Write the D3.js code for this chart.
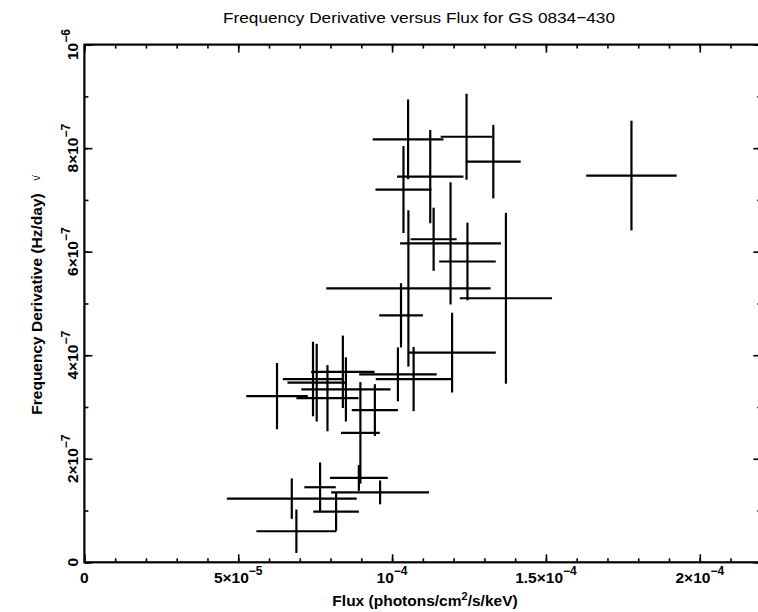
<!DOCTYPE html>
<html><head><meta charset="utf-8">
<script src="https://cdn.jsdelivr.net/npm/d3@7"></script>
<style>
body{margin:0;background:#fff}
svg{display:block}
text{font-family:"Liberation Sans",Arial,Helvetica,sans-serif;fill:#000}
</style></head>
<body><svg id="c" width="758" height="612"></svg>
<script>
// ---- data ----
const flux    = [6.26e-5,6.74e-5,6.89e-5,7.66e-5,8.18e-5,9.61e-5,8.92e-5,8.97e-5,9.44e-5,7.90e-5,8.50e-5,7.43e-5,7.55e-5,8.40e-5,10.19e-5,10.70e-5,10.52e-5,12.42e-5,13.29e-5,11.24e-5,10.37e-5,11.35e-5,11.90e-5,12.45e-5,10.53e-5,13.70e-5,10.29e-5,11.95e-5,17.78e-5];
const fluxErr = [1.00e-5,2.11e-5,1.30e-5,0.51e-5,0.74e-5,1.59e-5,0.94e-5,0.63e-5,0.75e-5,1.01e-5,1.45e-5,0.98e-5,0.95e-5,1.03e-5,1.26e-5,1.23e-5,1.15e-5,0.84e-5,0.89e-5,1.08e-5,0.91e-5,0.75e-5,1.64e-5,0.92e-5,2.67e-5,1.50e-5,0.71e-5,1.42e-5,1.47e-5];
const fdot    = [3.21e-7,1.23e-7,0.60e-7,1.45e-7,0.98e-7,1.35e-7,1.63e-7,2.50e-7,2.94e-7,3.17e-7,3.34e-7,3.54e-7,3.47e-7,3.68e-7,3.63e-7,3.54e-7,8.17e-7,8.22e-7,7.74e-7,7.45e-7,7.20e-7,6.24e-7,6.16e-7,5.81e-7,5.29e-7,5.10e-7,4.77e-7,4.05e-7,7.47e-7];
const fdotErr = [0.64e-7,0.39e-7,0.42e-7,0.48e-7,0.37e-7,0.23e-7,0.25e-7,0.98e-7,0.50e-7,0.64e-7,0.62e-7,0.72e-7,0.75e-7,0.70e-7,0.52e-7,0.62e-7,0.77e-7,0.83e-7,0.71e-7,0.90e-7,0.84e-7,0.61e-7,1.18e-7,0.75e-7,1.51e-7,1.65e-7,0.62e-7,0.77e-7,1.06e-7];

const xMajor = [0, 5e-5, 1e-4, 1.5e-4, 2e-4];
const xTickBase = ["0", "5×10", "10", "1.5×10", "2×10"];
const xTickExp  = ["", "−5", "−4", "−4", "−4"];
const xMinor = d3.range(0, 22.5, 1).map(v => v * 1e-5);

const yMajor = [0, 2e-7, 4e-7, 6e-7, 8e-7, 1e-6];
const yTickBase = ["0", "2×10", "4×10", "6×10", "8×10", "10"];
const yTickExp  = ["", "−7", "−7", "−7", "−7", "−6"];
const yMinor = d3.range(0, 10.5, 1).map(v => v * 1e-7);

const titleText = "Frequency Derivative versus Flux for GS 0834\u2212430";

// ---- layout ----
const svg = d3.select("#c");
const x = d3.scaleLinear().domain([0, 2.2e-4]).range([84.4, 761.3]);
const y = d3.scaleLinear().domain([0, 1e-6]).range([562.3, 44.6]);

function axisStyle(g){
  g.select(".domain").remove();
  g.selectAll(".tick line").attr("stroke","#000").attr("stroke-width",1.6);
}
const sides = [
  [d3.axisBottom, `translate(0,${y(0)})`, x, xMajor, xMinor],
  [d3.axisTop, `translate(0,${y(1e-6)})`, x, xMajor, xMinor],
  [d3.axisLeft, `translate(${x(0)},0)`, y, yMajor, yMinor],
  [d3.axisRight, `translate(${x(2.2e-4)},0)`, y, yMajor, yMinor]
];
sides.forEach(([ax, tr, sc, maj, mn]) => {
  svg.append("g").attr("transform", tr).call(ax(sc).tickValues(mn).tickSize(-4).tickFormat("")).call(axisStyle);
  svg.append("g").attr("transform", tr).call(ax(sc).tickValues(maj).tickSize(-8).tickFormat("")).call(axisStyle);
});

// frame
svg.append("rect")
  .attr("x", x(0)).attr("y", y(1e-6))
  .attr("width", x(2.2e-4) - x(0)).attr("height", y(0) - y(1e-6))
  .attr("fill","none").attr("stroke","#000").attr("stroke-width",2.2);

// x tick labels
xMajor.forEach((v,i) => {
  const t = svg.append("text").attr("x", x(v)).attr("y", 583)
    .attr("text-anchor","middle").attr("font-size",15.5).attr("font-weight","bold");
  t.append("tspan").text(xTickBase[i]);
  if (xTickExp[i]) t.append("tspan").attr("dy",-8).attr("font-size",12).text(xTickExp[i]);
});
// y tick labels (rotated)
yMajor.forEach((v,i) => {
  const t = svg.append("text").attr("transform", `translate(78,${y(v)}) rotate(-90)`)
    .attr("text-anchor","middle").attr("font-size",15.5).attr("font-weight","bold");
  t.append("tspan").text(yTickBase[i]);
  if (yTickExp[i]) t.append("tspan").attr("dy",-8).attr("font-size",12).text(yTickExp[i]);
});

// titles
svg.append("text").attr("x", 419).attr("y", 23).attr("text-anchor","middle")
  .attr("font-size",15.5)
  .attr("textLength",392).attr("lengthAdjust","spacingAndGlyphs").text(titleText);

const xt = svg.append("text").attr("x", 425).attr("y", 606).attr("text-anchor","middle")
  .attr("font-size",15.5).attr("font-weight","bold");
xt.append("tspan").text("Flux (photons/cm");
xt.append("tspan").attr("dy",-6).attr("font-size",11).text("2");
xt.append("tspan").attr("dy",6).text("/s/keV)");

svg.append("text").attr("transform","translate(42,304) rotate(-90)").attr("text-anchor","middle")
  .attr("font-size",15.5).attr("font-weight","bold").text("Frequency Derivative (Hz/day)");
svg.append("text").attr("transform","translate(40,178) rotate(-90)").attr("text-anchor","middle")
  .attr("font-size",10).text("ν̇");

// error bars
const pts = flux.map((f,i) => ({f, fe: fluxErr[i], d: fdot[i], de: fdotErr[i]}));
const g = svg.append("g").attr("stroke","#000").attr("stroke-width",2.2);
g.selectAll("line.h").data(pts).join("line").attr("class","h")
  .attr("x1", p => x(p.f - p.fe)).attr("x2", p => x(p.f + p.fe))
  .attr("y1", p => y(p.d)).attr("y2", p => y(p.d));
g.selectAll("line.v").data(pts).join("line").attr("class","v")
  .attr("x1", p => x(p.f)).attr("x2", p => x(p.f))
  .attr("y1", p => y(p.d - p.de)).attr("y2", p => y(p.d + p.de));
</script></body></html>
